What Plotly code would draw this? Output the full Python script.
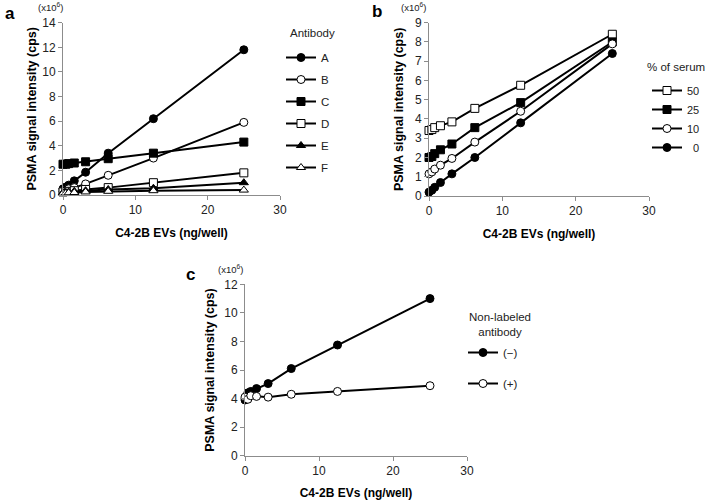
import plotly.graph_objects as go

# ---------------- data ----------------
ev_x = [0, 0.39, 0.78, 1.56, 3.125, 6.25, 12.5, 25]

# panel a: antibodies (x10^6 cps)
ab_names = ["A", "B", "C", "D", "E", "F"]
ab_A = [0.5, 0.65, 0.8, 1.15, 1.85, 3.4, 6.2, 11.8]
ab_B = [0.3, 0.4, 0.5, 0.6, 0.9, 1.6, 3.0, 5.9]
ab_C = [2.5, 2.5, 2.55, 2.6, 2.7, 2.95, 3.4, 4.3]
ab_D = [0.25, 0.28, 0.3, 0.35, 0.45, 0.6, 1.0, 1.8]
ab_E = [0.2, 0.22, 0.25, 0.3, 0.35, 0.45, 0.55, 1.0]
ab_F = [0.15, 0.15, 0.18, 0.2, 0.25, 0.3, 0.35, 0.4]

# panel b: % of serum
serum_names = ["50", "25", "10", "\u00a0\u00a00"]
serum_50 = [3.4, 3.45, 3.55, 3.65, 3.85, 4.55, 5.75, 8.4]
serum_25 = [2.0, 2.05, 2.2, 2.4, 2.7, 3.55, 4.85, 8.0]
serum_10 = [1.15, 1.25, 1.4, 1.6, 1.95, 2.8, 4.4, 7.9]
serum_0 = [0.2, 0.3, 0.45, 0.7, 1.15, 2.0, 3.8, 7.4]

# panel c: non-labeled antibody
nl_names = ["(\u2212)", "(+)"]
nl_minus = [3.9, 4.4, 4.5, 4.7, 5.05, 6.1, 7.75, 11.0]
nl_plus = [4.1, 3.95, 4.2, 4.15, 4.1, 4.3, 4.5, 4.9]

FONT = "Liberation Sans, Arial, sans-serif"
BLACK = "#000000"
AXC = "#8c8c8c"
TXT = "#222222"

fig = go.Figure()

def add(x, y, name, symbol, filled, xa, ya, legend, group):
    fig.add_trace(go.Scatter(
        x=x, y=y, name=name, mode="lines+markers",
        xaxis=xa, yaxis=ya, legend=legend, legendgroup=group,
        line=dict(color=BLACK, width=2),
        marker=dict(symbol=symbol, size=8,
                    color=BLACK if filled else "white",
                    line=dict(color=BLACK, width=1)),
        cliponaxis=False,
    ))

a_series = [ab_A, ab_B, ab_C, ab_D, ab_E, ab_F]
a_sym = [("circle", True), ("circle", False), ("square", True),
         ("square", False), ("triangle-up", True), ("triangle-up", False)]
for n, s, (sym, f) in zip(ab_names, a_series, a_sym):
    add(ev_x, s, n, sym, f, "x", "y", "legend", "a" + n)

b_series = [serum_50, serum_25, serum_10, serum_0]
b_sym = [("square", False), ("square", True), ("circle", False), ("circle", True)]
for n, s, (sym, f) in zip(serum_names, b_series, b_sym):
    add(ev_x, s, n, sym, f, "x2", "y2", "legend2", "b" + n)

c_series = [nl_minus, nl_plus]
c_sym = [("circle", True), ("circle", False)]
for n, s, (sym, f) in zip(nl_names, c_series, c_sym):
    add(ev_x, s, n, sym, f, "x3", "y3", "legend3", "c" + n)

W, H = 708, 500

def px_x(p):
    return p / W

def px_y(p):
    return 1 - p / H

axis_common = dict(showgrid=False, zeroline=False, showline=True, linecolor=AXC,
                   linewidth=1, ticks="outside", ticklen=4, tickcolor=AXC,
                   automargin=False,
                   tickfont=dict(family=FONT, size=12, color=TXT))
xtitle = dict(text="<b>C4-2B EVs (ng/well)</b>", font=dict(family=FONT, size=12, color=BLACK), standoff=12)

def ytitle(standoff):
    return dict(text="<b>PSMA signal intensity (cps)</b>",
                font=dict(family=FONT, size=12.5, color=BLACK), standoff=standoff)

layout = dict(
    width=W, height=H, margin=dict(l=0, r=0, t=0, b=0, autoexpand=False),
    paper_bgcolor="white", plot_bgcolor="white", showlegend=True,
    font=dict(family=FONT, color=BLACK),
    xaxis=dict(domain=[px_x(63), px_x(280)], range=[0, 30], dtick=10, anchor="y", title=xtitle, **axis_common),
    yaxis=dict(domain=[px_y(195), px_y(22.7)], range=[0, 14], dtick=2, anchor="x", title=ytitle(2), **axis_common),
    xaxis2=dict(domain=[px_x(429), px_x(649)], range=[0, 30], dtick=10, anchor="y2", title=xtitle, **axis_common),
    yaxis2=dict(domain=[px_y(196), px_y(22.7)], range=[0, 9], dtick=1, anchor="x2", title=ytitle(8), **axis_common),
    xaxis3=dict(domain=[px_x(245), px_x(467)], range=[0, 30], dtick=10, anchor="y3", title=xtitle, **axis_common),
    yaxis3=dict(domain=[px_y(455.7), px_y(284.3)], range=[0, 12], dtick=2, anchor="x3", title=ytitle(6), **axis_common),
)

leg_common = dict(bgcolor="rgba(0,0,0,0)", xanchor="left", yanchor="top",
                  itemclick=False, itemdoubleclick=False, traceorder="grouped")
layout["legend"] = dict(x=px_x(281), y=px_y(43), tracegroupgap=3,
                        font=dict(family=FONT, size=11.5, color=TXT), **leg_common)
layout["legend2"] = dict(x=px_x(647), y=px_y(76), tracegroupgap=0,
                         font=dict(family=FONT, size=11, color=TXT), **leg_common)
layout["legend3"] = dict(x=px_x(463), y=px_y(338), tracegroupgap=12,
                         font=dict(family=FONT, size=11.5, color=TXT), **leg_common)

fig.update_layout(**layout)

ann = []
for txt, x, y in [("a", 3, 13), ("b", 370, 11), ("c", 184, 274)]:
    ann.append(dict(text="<b>" + txt + "</b>", x=px_x(x), y=px_y(y), xref="paper", yref="paper",
                    xanchor="left", yanchor="middle", showarrow=False,
                    font=dict(family=FONT, size=17, color=BLACK)))
for x, y in [(50, 7), (413, 7), (230, 269)]:
    ann.append(dict(text="(x10<sup>6</sup>)", x=px_x(x), y=px_y(y), xref="paper", yref="paper",
                    xanchor="center", yanchor="middle", showarrow=False,
                    font=dict(family=FONT, size=9.5, color=TXT)))
for txt, x, y in [("Antibody", 312, 33), ("% of serum", 676, 67), ("Non-labeled<br>antibody", 500, 324)]:
    ann.append(dict(text=txt, x=px_x(x), y=px_y(y), xref="paper", yref="paper",
                    xanchor="center", yanchor="middle", showarrow=False, align="center",
                    font=dict(family=FONT, size=11.5, color=TXT)))
fig.update_layout(annotations=ann)

fig.write_html("out.html", config={"displayModeBar": False},
               post_script="document.body.style.margin='0';document.body.style.padding='0';")
